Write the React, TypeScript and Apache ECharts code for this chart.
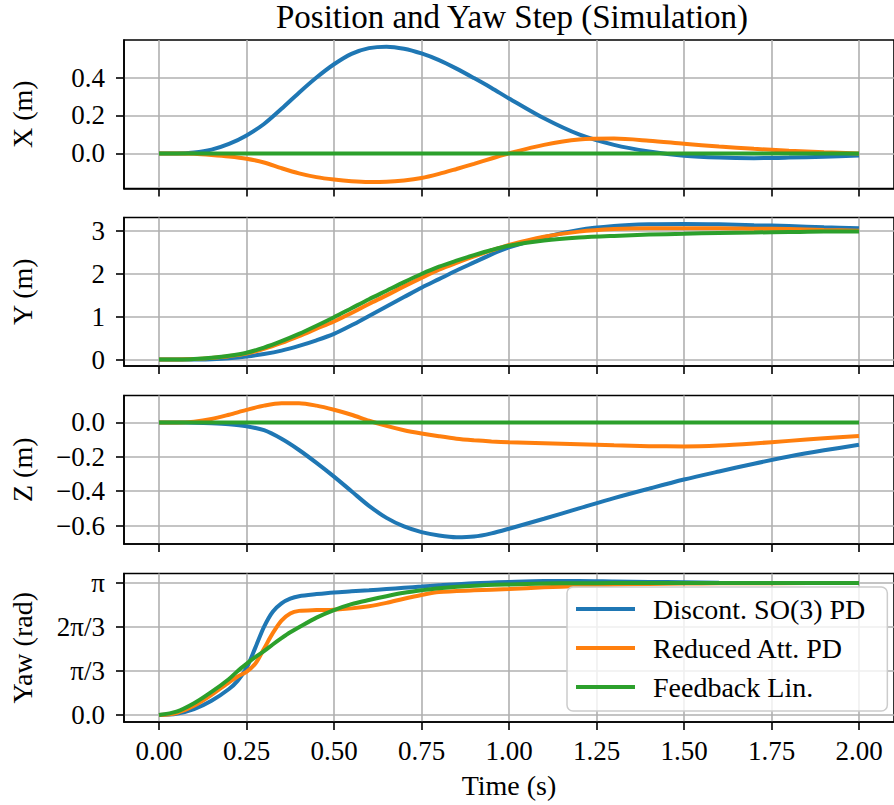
import React, { useEffect, useRef } from "react";
import * as echarts from "echarts";

const FONT = "Liberation Serif";
const SERIES_NAMES = ["Discont. SO(3) PD", "Reduced Att. PD", "Feedback Lin."];
const COLORS = ["#1f77b4", "#ff7f0e", "#2ca02c"];

// time samples for X / Y / Z panels
const tPos = [0, 0.05, 0.1, 0.15, 0.2, 0.25, 0.3, 0.35, 0.4, 0.45, 0.5, 0.55, 0.6, 0.65, 0.7, 0.75, 0.8, 0.85, 0.9, 0.95, 1.0, 1.1, 1.2, 1.3, 1.4, 1.5, 1.6, 1.7, 1.8, 1.9, 2.0];

const xBlue = [0, 0, 0.005, 0.02, 0.05, 0.095, 0.155, 0.235, 0.32, 0.4, 0.47, 0.525, 0.555, 0.563, 0.552, 0.527, 0.492, 0.447, 0.397, 0.345, 0.29, 0.185, 0.1, 0.045, 0.01, -0.012, -0.022, -0.025, -0.022, -0.017, -0.011];
const xOrange = [0, 0, -0.002, -0.008, -0.016, -0.028, -0.048, -0.078, -0.105, -0.125, -0.138, -0.147, -0.151, -0.15, -0.143, -0.13, -0.108, -0.082, -0.055, -0.027, 0, 0.045, 0.073, 0.078, 0.067, 0.051, 0.036, 0.024, 0.014, 0.006, 0];
const xGreen = [0, 0, 0, 0, 0, 0, 0, 0, 0, 0, 0, 0, 0, 0, 0, 0, 0, 0, 0, 0, 0, 0, 0, 0, 0, 0, 0, 0, 0, 0, 0];

const yBlue = [0, 0, 0.003, 0.01, 0.03, 0.07, 0.13, 0.21, 0.32, 0.45, 0.6, 0.8, 1.02, 1.24, 1.46, 1.68, 1.88, 2.08, 2.27, 2.46, 2.62, 2.86, 3.03, 3.12, 3.16, 3.17, 3.16, 3.14, 3.12, 3.09, 3.07];
const yOrange = [0, 0.002, 0.012, 0.04, 0.08, 0.14, 0.25, 0.39, 0.55, 0.72, 0.89, 1.09, 1.3, 1.5, 1.71, 1.91, 2.1, 2.26, 2.41, 2.55, 2.68, 2.87, 2.99, 3.05, 3.07, 3.07, 3.07, 3.06, 3.05, 3.03, 3.01];
const yGreen = [0, 0.003, 0.015, 0.045, 0.09, 0.16, 0.28, 0.43, 0.6, 0.79, 0.99, 1.2, 1.41, 1.61, 1.81, 2.0, 2.17, 2.31, 2.44, 2.56, 2.66, 2.78, 2.85, 2.89, 2.92, 2.94, 2.96, 2.97, 2.98, 2.99, 2.99];

const zBlue = [0, 0, -0.001, -0.004, -0.01, -0.022, -0.045, -0.095, -0.16, -0.235, -0.315, -0.4, -0.485, -0.555, -0.605, -0.638, -0.658, -0.668, -0.664, -0.645, -0.618, -0.56, -0.5, -0.44, -0.385, -0.332, -0.285, -0.24, -0.198, -0.162, -0.13];
const zOrange = [0, 0, 0.005, 0.02, 0.045, 0.073, 0.098, 0.112, 0.112, 0.098, 0.074, 0.045, 0.01, -0.02, -0.045, -0.064, -0.08, -0.094, -0.103, -0.11, -0.115, -0.121, -0.127, -0.133, -0.138, -0.139, -0.134, -0.122, -0.107, -0.092, -0.078];
const zGreen = [0, 0, 0, 0, 0, 0, 0, 0, 0, 0, 0, 0, 0, 0, 0, 0, 0, 0, 0, 0, 0, 0, 0, 0, 0, 0, 0, 0, 0, 0, 0];

// time samples for the yaw panel
const tYaw = [0, 0.05, 0.1, 0.15, 0.2, 0.225, 0.25, 0.275, 0.3, 0.325, 0.35, 0.375, 0.4, 0.45, 0.5, 0.55, 0.6, 0.65, 0.7, 0.75, 0.8, 0.9, 1.0, 1.1, 1.2, 1.3, 1.4, 1.5, 1.6, 1.75, 2.0];
const yawBlue = [0, 0.03, 0.14, 0.34, 0.62, 0.82, 1.12, 1.6, 2.1, 2.46, 2.66, 2.77, 2.83, 2.88, 2.92, 2.945, 2.97, 3.0, 3.03, 3.06, 3.09, 3.14, 3.17, 3.19, 3.19, 3.18, 3.17, 3.16, 3.15, 3.145, 3.142];
const yawOrange = [0, 0.05, 0.22, 0.48, 0.78, 0.92, 1.03, 1.22, 1.58, 1.95, 2.25, 2.42, 2.48, 2.5, 2.51, 2.54, 2.59, 2.67, 2.77, 2.86, 2.93, 2.97, 3.0, 3.04, 3.07, 3.1, 3.12, 3.13, 3.135, 3.14, 3.142];
const yawGreen = [0, 0.08, 0.28, 0.55, 0.86, 1.05, 1.22, 1.38, 1.52, 1.68, 1.83, 1.97, 2.09, 2.32, 2.5, 2.64, 2.74, 2.83, 2.91, 2.97, 3.02, 3.08, 3.11, 3.13, 3.14, 3.141, 3.141, 3.141, 3.142, 3.142, 3.142];

// axes
const xTicks = [0, 0.25, 0.5, 0.75, 1.0, 1.25, 1.5, 1.75, 2.0];
const xRange = [-0.1, 2.1];
const panelNames = ["X (m)", "Y (m)", "Z (m)", "Yaw (rad)"];
const xPanelTicks = [0, 0.2, 0.4];
const yPanelTicks = [0, 1, 2, 3];
const zPanelTicks = [-0.6, -0.4, -0.2, 0];
const yawTickValues = [0, Math.PI / 3, (2 * Math.PI) / 3, Math.PI];
const yawTickLabels = ["0.0", "π/3", "2π/3", "π"];
const yRanges = [
  [-0.185, 0.598],
  [-0.15, 3.32],
  [-0.707, 0.157],
  [-0.165, 3.37],
];

const minus = (s: string) => s.replace("-", "\u2212");

export default function App() {
  const ref = useRef<HTMLDivElement>(null);
  useEffect(() => {
    document.body.style.margin = "0";
    if (!ref.current) return;
    const chart = echarts.init(ref.current, null, { renderer: "svg" });

    const tops = [40, 217.5, 395.5, 573.5];
    const gridH = 148.5;
    const panels = [
      { t: tPos, vals: [xBlue, xOrange, xGreen], ticks: xPanelTicks, fmt: (v: number) => minus(v.toFixed(1)) },
      { t: tPos, vals: [yBlue, yOrange, yGreen], ticks: yPanelTicks, fmt: (v: number) => String(Math.round(v)) },
      { t: tPos, vals: [zBlue, zOrange, zGreen], ticks: zPanelTicks, fmt: (v: number) => minus(v.toFixed(1)) },
      {
        t: tYaw,
        vals: [yawBlue, yawOrange, yawGreen],
        ticks: yawTickValues,
        fmt: (v: number) => {
          let best = 0;
          yawTickValues.forEach((tv, i) => {
            if (Math.abs(tv - v) < Math.abs(yawTickValues[best] - v)) best = i;
          });
          return yawTickLabels[best];
        },
      },
    ];

    const textBase = { fontFamily: FONT, fontSize: 27, color: "#000" };
    const nameText = { fontFamily: FONT, fontSize: 28, color: "#000" };
    const lineW = 1.6;

    const grid = tops.map((top) => ({
      left: 123,
      top,
      width: 779,
      height: gridH,
      show: true,
      borderColor: "#000",
      borderWidth: lineW,
      backgroundColor: "transparent",
    }));

    const xAxis = tops.map((_, i) => ({
      type: "value",
      gridIndex: i,
      min: xRange[0],
      max: xRange[1],
      axisLine: { show: true, onZero: false, lineStyle: { color: "#000", width: lineW } },
      axisTick: { show: true, customValues: xTicks, length: 8, lineStyle: { color: "#000", width: lineW } },
      axisLabel: {
        show: i === 3,
        customValues: xTicks,
        formatter: (v: number) => v.toFixed(2),
        margin: 15,
        ...textBase,
      },
      splitLine: { show: true, lineStyle: { color: "#b0b0b0", width: lineW } },
      name: i === 3 ? "Time (s)" : "",
      nameLocation: "middle",
      nameGap: 49,
      nameTextStyle: nameText,
    }));

    const yAxis = panels.map((p, i) => ({
      type: "value",
      gridIndex: i,
      min: yRanges[i][0],
      max: yRanges[i][1],
      axisLine: { show: true, onZero: false, lineStyle: { color: "#000", width: lineW } },
      axisTick: { show: true, customValues: p.ticks, length: 8, lineStyle: { color: "#000", width: lineW } },
      axisLabel: { show: true, customValues: p.ticks, formatter: p.fmt, margin: 19, ...textBase },
      splitLine: { show: true, lineStyle: { color: "#b0b0b0", width: lineW } },
      name: panelNames[i],
      nameLocation: "middle",
      nameRotate: 90,
      nameGap: 88,
      nameTextStyle: nameText,
    }));

    const series: any[] = [];
    panels.forEach((p, pi) => {
      p.vals.forEach((vals, si) => {
        series.push({
          type: "line",
          name: SERIES_NAMES[si],
          xAxisIndex: pi,
          yAxisIndex: pi,
          data: p.t.map((t, k) => [t, vals[k]]),
          showSymbol: false,
          symbol: "none",
          smooth: 0.3,
          color: COLORS[si],
          lineStyle: { color: COLORS[si], width: 4 },
          itemStyle: { color: COLORS[si] },
          z: 2 + si,
        });
      });
    });

    chart.setOption({
      animation: false,
      color: COLORS,
      title: {
        text: "Position and Yaw Step (Simulation)",
        left: 512,
        top: 0,
        padding: 0,
        textAlign: "center",
        textStyle: { fontFamily: FONT, fontSize: 33, fontWeight: "normal", color: "#000" },
      },
      legend: {
        data: SERIES_NAMES,
        orient: "vertical",
        left: 567,
        top: 587,
        icon: "rect",
        itemWidth: 59,
        itemHeight: 4,
        itemGap: 11,
        padding: [8, 22, 10, 9],
        backgroundColor: "rgba(255,255,255,0.8)",
        borderColor: "#cccccc",
        borderWidth: 1.5,
        borderRadius: 6,
        selectedMode: false,
        textStyle: { ...nameText, lineHeight: 27, padding: [0, 0, 0, 13] },
      },
      grid,
      xAxis,
      yAxis,
      series,
    });
    return () => chart.dispose();
  }, []);
  return <div ref={ref} style={{ width: 894, height: 805 }} />;
}
